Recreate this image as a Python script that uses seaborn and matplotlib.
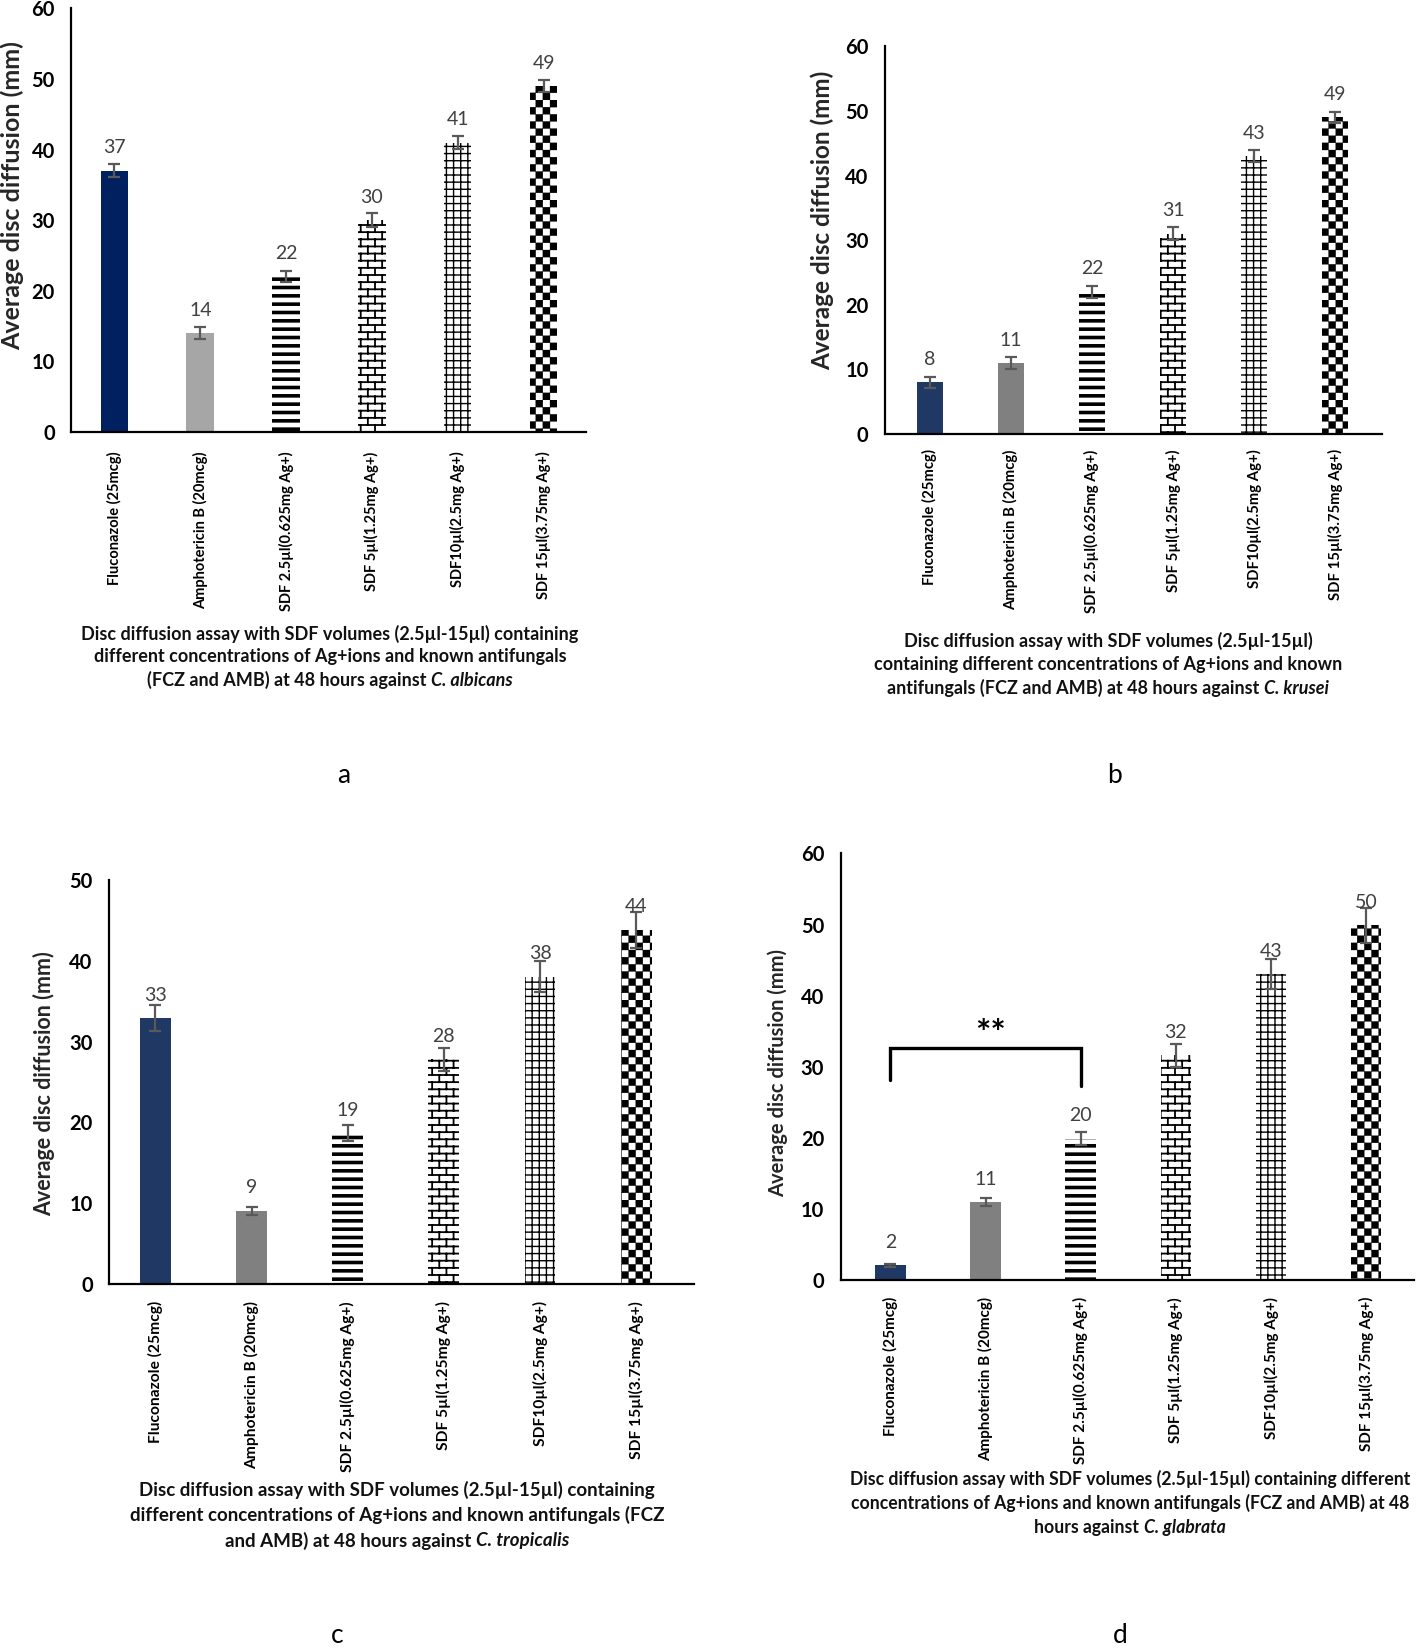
import warnings
warnings.filterwarnings("ignore")
import numpy as np
import matplotlib
matplotlib.use("Agg")
import matplotlib.pyplot as plt
import matplotlib.hatch as mhatch
from matplotlib.path import Path
import seaborn as sns
import pandas as pd

# ---------------- data ----------------
categories = ["Fluconazole (25mcg)", "Amphotericin B (20mcg)", "SDF 2.5µl(0.625mg Ag+)",
              "SDF 5µl(1.25mg Ag+)", "SDF10µl(2.5mg Ag+)", "SDF 15µl(3.75mg Ag+)"]

a_values = [37, 14, 22, 30, 41, 49]
a_errors = [0.9, 0.9, 0.8, 1.0, 0.9, 0.9]

b_values = [8, 11, 22, 31, 43, 49]
b_errors = [0.9, 0.9, 0.9, 1.0, 0.9, 0.8]

c_values = [32.9, 9.1, 18.7, 27.8, 38.0, 43.8]
c_errors = [1.65, 0.5, 0.95, 1.45, 1.9, 2.2]

d_values = [2.1, 11.0, 19.9, 31.6, 43.0, 49.9]
d_errors = [0.2, 0.6, 0.95, 1.6, 2.1, 2.45]

a_ticks = [0, 10, 20, 30, 40, 50, 60]
b_ticks = [0, 10, 20, 30, 40, 50, 60]
c_ticks = [0, 10, 20, 30, 40, 50]
d_ticks = [0, 10, 20, 30, 40, 50, 60]

d_bracket_x = [0, 0, 2, 2]
d_bracket_y = [28.1, 32.6, 32.6, 27.3]
d_star_text = "**"

captions = {
    "a": [["Disc diffusion assay with SDF volumes (2.5µl-15µl) containing"],
          ["different concentrations of Ag+ions and known antifungals"],
          ["(FCZ and AMB) at 48 hours against ", "C. albicans"]],
    "b": [["Disc diffusion assay with SDF volumes (2.5µl-15µl)"],
          ["containing different concentrations of Ag+ions and known"],
          ["antifungals (FCZ and AMB) at 48 hours against ", "C. krusei"]],
    "c": [["Disc diffusion assay with SDF volumes (2.5µl-15µl) containing"],
          ["different concentrations of Ag+ions and known antifungals (FCZ"],
          ["and AMB) at 48 hours against ", "C. tropicalis"]],
    "d": [["Disc diffusion assay with SDF volumes (2.5µl-15µl) containing different"],
          ["concentrations of Ag+ions and known antifungals (FCZ and AMB) at 48"],
          ["hours against ", "C. glabrata"]],
}


# ---------------- custom hatches ----------------
class BrickHatch(mhatch.HatchPatternBase):
    def __init__(self, hatch, density):
        n = hatch.count('b')
        self.rows = 14 * n
        self.cols = 7 * n
        if n:
            self.num_vertices = self.rows * 2 + (self.rows + 1) * self.cols * 2
        else:
            self.num_vertices = 0

    def set_vertices_and_codes(self, vertices, codes):
        R, C = self.rows, self.cols
        h, w = 1.0 / R, 1.0 / C
        k = 0
        for r in range(R):
            y = (r + 0.5) * h
            vertices[k] = (0.0, y)
            vertices[k + 1] = (1.0, y)
            codes[k] = Path.MOVETO
            codes[k + 1] = Path.LINETO
            k += 2
        for r in range(R + 1):
            y0, y1 = (r - 0.5) * h, (r + 0.5) * h
            off = 0.75 * w if r % 2 else 0.25 * w
            for c in range(C):
                x = c * w + off
                vertices[k] = (x, y0)
                vertices[k + 1] = (x, y1)
                codes[k] = Path.MOVETO
                codes[k + 1] = Path.LINETO
                k += 2


class CheckerHatch(mhatch.HatchPatternBase):
    def __init__(self, hatch, density):
        n = hatch.count('k')
        self.n = 14 * n
        self.num_vertices = (self.n * self.n // 2) * 5 if n else 0

    def set_vertices_and_codes(self, vertices, codes):
        n = self.n
        s = 1.0 / n
        k = 0
        for i in range(n):
            for j in range(n):
                if (i + j) % 2 == 0:
                    x0, y0 = i * s, j * s
                    vertices[k:k + 5] = [(x0, y0), (x0 + s, y0), (x0 + s, y0 + s),
                                         (x0, y0 + s), (x0, y0)]
                    codes[k:k + 5] = [Path.MOVETO, Path.LINETO, Path.LINETO,
                                      Path.LINETO, Path.CLOSEPOLY]
                    k += 5


class GridHatch(mhatch.HatchPatternBase):
    def __init__(self, hatch, density):
        n = hatch.count('g')
        self.n = 14 * n
        self.num_vertices = self.n * 4 if n else 0

    def set_vertices_and_codes(self, vertices, codes):
        n = self.n
        steps = (np.arange(n) + 0.5) / n
        k = 0
        for s in steps:
            vertices[k] = (0.0, s); vertices[k + 1] = (1.0, s)
            vertices[k + 2] = (s, 0.0); vertices[k + 3] = (s, 1.0)
            codes[k:k + 4] = [Path.MOVETO, Path.LINETO, Path.MOVETO, Path.LINETO]
            k += 4


mhatch._hatch_types.extend([BrickHatch, CheckerHatch, GridHatch])

# ---------------- style ----------------
sns.set_theme(style="white")
plt.rcParams['font.family'] = ['Lato', 'DejaVu Sans']
plt.rcParams['hatch.color'] = 'black'

W_IN, H_IN = 14.18, 16.48
fig = plt.figure(figsize=(W_IN, H_IN), dpi=100)

navy_a = "#002060"
navy = "#203864"
grey_a = "#A6A6A6"
grey = "#808080"

hatch_specs = [(None, 0), (None, 0), ('--', 2.6), ('b', 1.3), ('g', 1.0), ('k', 0.2)]


def draw_panel(rect, values, errors, ticks, colors, xlim, xpad, ylab_size, cat_size,
               ylab_y, ylab_pad):
    ax = fig.add_axes(rect)
    df = pd.DataFrame({"cat": categories, "val": values})
    sns.barplot(data=df, x="cat", y="val", hue="cat", palette=colors, legend=False,
                width=0.32, saturation=1, errorbar=None, ax=ax, linewidth=0)
    bars = sorted(ax.patches, key=lambda p: p.get_x())
    for p, (h, lw) in zip(bars, hatch_specs):
        if h is not None:
            p.set_facecolor('white')
            p.set_edgecolor('black')
            p.set_linewidth(0)
            p.set_hatch(h)
            if hasattr(p, 'set_hatch_linewidth'):
                p.set_hatch_linewidth(lw)
    xs = np.arange(len(values))
    ax.errorbar(xs, values, yerr=errors, fmt='none', ecolor='#595959',
                elinewidth=1.6, capsize=4, capthick=1.6, zorder=5)
    for x, v in zip(xs, values):
        ax.annotate(f"{v:.0f}", (x, v), xytext=(0, 16.5), textcoords='offset points',
                    ha='center', va='center', fontsize=14, color='#404040', zorder=6)
    ax.set_ylim(ticks[0], ticks[-1])
    ax.set_yticks(ticks)
    ax.set_xlim(*xlim)
    ax.set_xlabel("")
    ax.set_ylabel("Average disc diffusion (mm)", fontsize=ylab_size, fontweight='bold',
                  color='#262626', labelpad=ylab_pad)
    ax.yaxis.label.set_y(ylab_y)
    ax.tick_params(axis='y', length=0, pad=12, labelsize=14.5, labelcolor='black')
    ax.tick_params(axis='x', length=0, pad=xpad, labelsize=cat_size, labelcolor='black')
    for lab in ax.get_yticklabels():
        lab.set_fontweight('bold')
    ax.set_xticks(xs)
    ax.set_xticklabels(categories, rotation=90, fontweight='bold')
    for side in ['top', 'right']:
        ax.spines[side].set_visible(False)
    for side in ['left', 'bottom']:
        ax.spines[side].set_color('black')
        ax.spines[side].set_linewidth(1.6)
    ax.set_facecolor('white')
    return ax


ax_a = draw_panel([0.0504, 0.7379, 0.3632, 0.2570], a_values, a_errors, a_ticks,
                  [navy_a, grey_a, 'white', 'white', 'white', 'white'], (-0.5, 5.5), 14,
                  18, 10.5, 0.558, 5)
ax_b = draw_panel([0.6242, 0.7366, 0.3506, 0.2353], b_values, b_errors, b_ticks,
                  [navy, grey, 'white', 'white', 'white', 'white'], (-0.55, 5.58), 11,
                  17.5, 10.7, 0.55, 8)
ax_c = draw_panel([0.0771, 0.2207, 0.4122, 0.2455], c_values, c_errors, c_ticks,
                  [navy, grey, 'white', 'white', 'white', 'white'], (-0.48, 5.6), 12,
                  15.5, 11.2, 0.496, 10)
ax_d = draw_panel([0.5930, 0.2232, 0.4040, 0.2589], d_values, d_errors, d_ticks,
                  [navy, grey, 'white', 'white', 'white', 'white'], (-0.52, 5.5), 12,
                  14.5, 11, 0.485, 9)

ax_d.plot(d_bracket_x, d_bracket_y, color='black', lw=2.4, solid_joinstyle='miter', zorder=7)
ax_d.text(np.mean(d_bracket_x) + 0.05, d_bracket_y[1] + 2.0, d_star_text, ha='center', va='center',
          fontsize=26, fontweight='bold', color='black')

# ---------------- captions ----------------
renderer = fig.canvas.get_renderer()
FIGW = fig.bbox.width


def caption(lines, xc, ys, size=12.5):
    for parts, y in zip(lines, ys):
        texts = []
        for i, s in enumerate(parts):
            t = fig.text(0, y, s.rstrip(), fontsize=size, fontweight='bold',
                         fontstyle='italic' if i == 1 else 'normal',
                         va='center', ha='left', color='#111111')
            texts.append(t)
        widths = [t.get_window_extent(renderer).width for t in texts]
        if len(parts) == 2:
            sp = fig.text(0, 0, "a a", fontsize=size, fontweight='bold')
            sp2 = fig.text(0, 0, "aa", fontsize=size, fontweight='bold')
            space_w = sp.get_window_extent(renderer).width - sp2.get_window_extent(renderer).width
            sp.remove(); sp2.remove()
            widths[0] += space_w
        total = sum(widths)
        x = xc * FIGW - total / 2
        for t, w in zip(texts, widths):
            t.set_x(x / FIGW)
            x += w


def fy(y_shown):
    return 1 - y_shown / 1568.0


caption(captions["a"], 314 / 1349, [fy(603), fy(625), fy(647)], 13)
caption(captions["b"], 1054 / 1349, [fy(610), fy(632), fy(655)], 13)
caption(captions["c"], 378 / 1349, [fy(1418), fy(1441), fy(1466)], 13.5)
caption(captions["d"], 1075 / 1349, [fy(1407), fy(1430), fy(1453)], 12.7)

for lab, xs_, ys_ in [("a", 327, 738), ("b", 1060, 738), ("c", 321, 1556), ("d", 1066, 1556)]:
    fig.text(xs_ / 1349, fy(ys_), lab, fontsize=19, ha='center', va='center', color='black')

fig.savefig("out.png", dpi=100, facecolor='white')
